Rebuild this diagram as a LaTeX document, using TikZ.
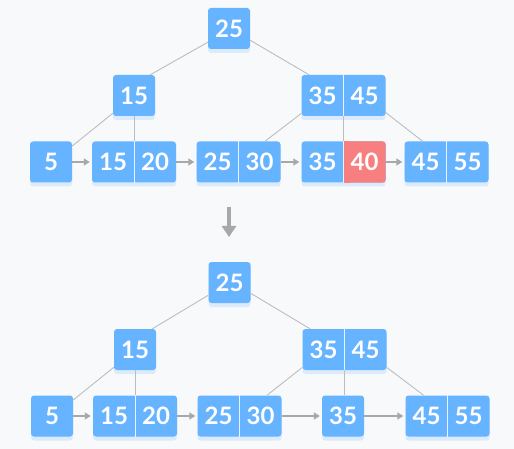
\documentclass[tikz,border=0pt]{standalone}
\usepackage{fontspec}
\newfontfamily\keyfont{Lato}
\usetikzlibrary{arrows.meta,shadows,calc}
\definecolor{bgc}{HTML}{F8F9FB}
\definecolor{keyblue}{HTML}{66B3FF}
\definecolor{keyred}{HTML}{F77F80}
\definecolor{shadowc}{HTML}{C9E2FB}
\definecolor{linec}{HTML}{BDBDBD}
\definecolor{arrc}{HTML}{A8A8A8}
\begin{document}
\begin{tikzpicture}[x=1pt,y=-1pt,
  keybox/.style={rectangle, rounded corners=3pt, fill=keyblue, minimum height=41pt, inner sep=0pt,
    drop shadow={shadow xshift=0pt, shadow yshift=-4pt, fill=shadowc, opacity=0.6}},
  one/.style={keybox, minimum width=42pt, text=white, font=\keyfont\bfseries\fontsize{24}{24}\selectfont},
  two/.style={keybox, minimum width=84pt},
  keytxt/.style={inner sep=0pt, text=white, font=\keyfont\bfseries\fontsize{24}{24}\selectfont},
  divider/.style={draw=white!85!keyblue, line width=1pt},
  treeline/.style={draw=linec, line width=0.9pt},
  leafarrow/.style={draw=arrc, line width=1.4pt, shorten >=2pt, -{Triangle[length=6pt,width=7pt]}},
  downarrow/.style={draw=arrc, line width=3.5pt, -{Triangle[length=11pt,width=14pt]}}
]
\fill[bgc] (0,0) rectangle (514,449);
\useasboundingbox (0,0) rectangle (514,449);

% ---------------- top tree ----------------
\node[one] (tr) at (229,28.5) {25};
\node[one] (ta) at (134,95.5) {15};
\node[two] (tb) at (343.5,95.5) {};
\node[keytxt] (tb1) at ($(tb.center)+(-21,0)$) {35};
\node[keytxt] (tb2) at ($(tb.center)+(21,0)$) {45};
\draw[divider] (tb.north) -- (tb.south);

\node[one] (tl1) at (51,162) {5};
\node[two] (tl2) at (134,162) {};
\node[keytxt] (tl2a) at ($(tl2.center)+(-21,0)$) {15};
\node[keytxt] (tl2b) at ($(tl2.center)+(21,0)$) {20};
\draw[divider] (tl2.north) -- (tl2.south);

\node[two] (tl3) at (238.5,162) {};
\node[keytxt] (tl3a) at ($(tl3.center)+(-21,0)$) {25};
\node[keytxt] (tl3b) at ($(tl3.center)+(21,0)$) {30};
\draw[divider] (tl3.north) -- (tl3.south);

\node[two] (tl4) at (343.5,162) {};
\fill[keyred, rounded corners=3pt] (tl4.north) rectangle (tl4.south east);
\fill[keyred] (tl4.north) rectangle ($(tl4.south)+(6,0)$);
\node[keytxt] (tl4a) at ($(tl4.center)+(-21,0)$) {35};
\node[keytxt] (tl4b) at ($(tl4.center)+(21,0)$) {40};
\draw[divider] (tl4.north) -- (tl4.south);

\node[two] (tl5) at (446.5,162) {};
\node[keytxt] (tl5a) at ($(tl5.center)+(-21,0)$) {45};
\node[keytxt] (tl5b) at ($(tl5.center)+(21,0)$) {55};
\draw[divider] (tl5.north) -- (tl5.south);

\draw[treeline] (tr.213) -- (ta.52);
\draw[treeline] (tr.331) -- (tb.149);
\draw[treeline] (ta.220) -- (tl1.37);
\draw[treeline] (ta.south) -- (tl2.north);
\draw[treeline] (tb.203) -- (tl3.38);
\draw[treeline] (tb.south) -- (tl4.north);
\draw[treeline] (tb.338) -- (tl5.139);

\draw[leafarrow] (tl1.east) -- (tl2.west);
\draw[leafarrow] (tl2.east) -- (tl3.west);
\draw[leafarrow] (tl3.east) -- (tl4.west);
\draw[leafarrow] (tl4.east) -- (tl5.west);

% ---------------- down arrow ----------------
\coordinate (dtop) at (229,207);
\coordinate (dbot) at (229,237);
\draw[downarrow] (dtop) -- (dbot);

% ---------------- bottom tree ----------------
\node[one] (br) at (229.5,282.5) {25};
\node[one] (ba) at (135,349.5) {15};
\node[two] (bb) at (344.5,349.5) {};
\node[keytxt] (bb1) at ($(bb.center)+(-21,0)$) {35};
\node[keytxt] (bb2) at ($(bb.center)+(21,0)$) {45};
\draw[divider] (bb.north) -- (bb.south);

\node[one] (bl1) at (52,416) {5};
\node[two] (bl2) at (135,416) {};
\node[keytxt] (bl2a) at ($(bl2.center)+(-21,0)$) {15};
\node[keytxt] (bl2b) at ($(bl2.center)+(21,0)$) {20};
\draw[divider] (bl2.north) -- (bl2.south);

\node[two] (bl3) at (239.5,416) {};
\node[keytxt] (bl3a) at ($(bl3.center)+(-21,0)$) {25};
\node[keytxt] (bl3b) at ($(bl3.center)+(21,0)$) {30};
\draw[divider] (bl3.north) -- (bl3.south);

\node[one] (bl4) at (343,416) {35};

\node[two] (bl5) at (447.5,416) {};
\node[keytxt] (bl5a) at ($(bl5.center)+(-21,0)$) {45};
\node[keytxt] (bl5b) at ($(bl5.center)+(21,0)$) {55};
\draw[divider] (bl5.north) -- (bl5.south);

\draw[treeline] (br.211) -- (ba.50);
\draw[treeline] (br.333) -- (bb.149);
\draw[treeline] (ba.220) -- (bl1.37);
\draw[treeline] (ba.south) -- (bl2.north);
\draw[treeline] (bb.203) -- (bl3.37);
\draw[treeline] (bb.south) -- (bb.south |- bl4.north);
\draw[treeline] (bb.337) -- (bl5.139);

\draw[leafarrow] (bl1.east) -- (bl2.west);
\draw[leafarrow] (bl2.east) -- (bl3.west);
\draw[leafarrow] (bl3.east) -- (bl4.west);
\draw[leafarrow] (bl4.east) -- (bl5.west);
\end{tikzpicture}
\end{document}
